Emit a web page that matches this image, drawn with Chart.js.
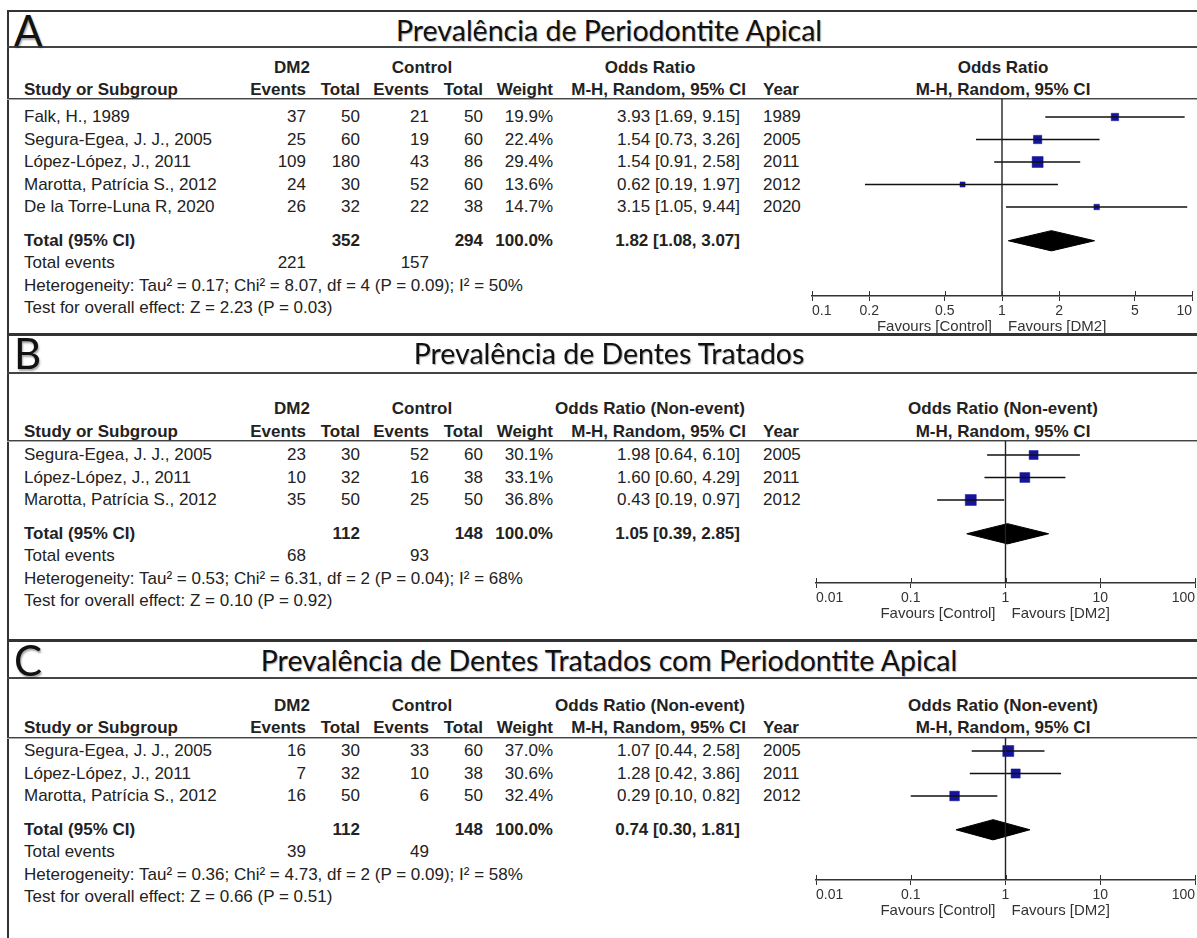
<!DOCTYPE html>
<html>
<head>
<meta charset="utf-8">
<script src="https://cdn.jsdelivr.net/npm/chart.js@4.4.1/dist/chart.umd.min.js"></script>
<style>
  body { margin: 0; background: #fff; }
  #page { position: relative; width: 1197px; height: 938px; overflow: hidden; background: #fff;
          font-family: "Liberation Sans", Arial, sans-serif; color: #222; }
  .t { position: absolute; white-space: nowrap; font-size: 17px; line-height: 20px; }
  .b { font-weight: bold; }
  .ttl { font-family: Lato, "Open Sans", sans-serif; font-size: 28.5px; line-height: 32px; color: #111;
         text-shadow: 1px 1px 1px rgba(0,0,0,0.3); }
  .let { font-family: Lato, "Open Sans", sans-serif; font-size: 42px; line-height: 44px; color: #111;
         text-shadow: 1px 2px 2px rgba(0,0,0,0.35); }
  .ln { position: absolute; }
  canvas { position: absolute; }
</style>
</head>
<body>
<div id="page"></div>
<script>
// --- DATA ---

const LETTERS = ['A', 'B', 'C'];
const TITLES = [
  'Prevalência de Periodontite Apical',
  'Prevalência de Dentes Tratados',
  'Prevalência de Dentes Tratados com Periodontite Apical'
];
const MEASURES = ['Odds Ratio', 'Odds Ratio (Non-event)', 'Odds Ratio (Non-event)'];

// A
const studiesA = ['Falk, H., 1989', 'Segura-Egea, J. J., 2005', 'López-López, J., 2011', 'Marotta, Patrícia S., 2012', 'De la Torre-Luna R, 2020'];
const dm2EventsA = [37, 25, 109, 24, 26];
const dm2TotalA = [50, 60, 180, 30, 32];
const ctrlEventsA = [21, 19, 43, 52, 22];
const ctrlTotalA = [50, 60, 86, 60, 38];
const weightA = [19.9, 22.4, 29.4, 13.6, 14.7];
const orA = [3.93, 1.54, 1.54, 0.62, 3.15];
const lowA = [1.69, 0.73, 0.91, 0.19, 1.05];
const highA = [9.15, 3.26, 2.58, 1.97, 9.44];
const yearA = [1989, 2005, 2011, 2012, 2020];
const totalA = [1.82, 1.08, 3.07];
const sumsA = [352, 294, 221, 157];
const hetA = 'Heterogeneity: Tau² = 0.17; Chi² = 8.07, df = 4 (P = 0.09); I² = 50%';
const testA = 'Test for overall effect: Z = 2.23 (P = 0.03)';
const ticksA = [0.1, 0.2, 0.5, 1, 2, 5, 10];

// B
const studiesB = ['Segura-Egea, J. J., 2005', 'López-López, J., 2011', 'Marotta, Patrícia S., 2012'];
const dm2EventsB = [23, 10, 35];
const dm2TotalB = [30, 32, 50];
const ctrlEventsB = [52, 16, 25];
const ctrlTotalB = [60, 38, 50];
const weightB = [30.1, 33.1, 36.8];
const orB = [1.98, 1.60, 0.43];
const lowB = [0.64, 0.60, 0.19];
const highB = [6.10, 4.29, 0.97];
const yearB = [2005, 2011, 2012];
const totalB = [1.05, 0.39, 2.85];
const sumsB = [112, 148, 68, 93];
const hetB = 'Heterogeneity: Tau² = 0.53; Chi² = 6.31, df = 2 (P = 0.04); I² = 68%';
const testB = 'Test for overall effect: Z = 0.10 (P = 0.92)';
const ticksB = [0.01, 0.1, 1, 10, 100];

// C
const studiesC = ['Segura-Egea, J. J., 2005', 'López-López, J., 2011', 'Marotta, Patrícia S., 2012'];
const dm2EventsC = [16, 7, 16];
const dm2TotalC = [30, 32, 50];
const ctrlEventsC = [33, 10, 6];
const ctrlTotalC = [60, 38, 50];
const weightC = [37.0, 30.6, 32.4];
const orC = [1.07, 1.28, 0.29];
const lowC = [0.44, 0.42, 0.10];
const highC = [2.58, 3.86, 0.82];
const yearC = [2005, 2011, 2012];
const totalC = [0.74, 0.30, 1.81];
const sumsC = [112, 148, 39, 49];
const hetC = 'Heterogeneity: Tau² = 0.36; Chi² = 4.73, df = 2 (P = 0.09); I² = 58%';
const testC = 'Test for overall effect: Z = 0.66 (P = 0.51)';
const ticksC = [0.01, 0.1, 1, 10, 100];

// --- LAYOUT (pixels) ---

const PANEL_TOP  = [10, 333, 639];
const TITLE_Y    = [30, 353, 660];
const TITLE_LINE = [46, 372, 677];
const HEAD1_Y    = [68, 409, 706];
const HEAD2_Y    = [90, 432, 728];
const HEAD_LINE  = [98, 440, 737];
const ROW0_Y     = [117, 455, 751];
const AXIS_Y     = [296, 583, 880];
const ROW_H = 22.5;
const X_AXIS_H = 46;
const PLOT_LEFT = [812, 816, 816];
const PLOT_RIGHT = [1192, 1195, 1195];
const CV_LEFT = 780, CV_W = 417;

const COL = { name: 24, e1: 306, t1: 360, e2: 429, t2: 483, w: 553, or: 740, year: 763,
              dm2: 292, ctrl: 422, orHead: 650, plot: 1003 };

const page = document.getElementById('page');

const put = (text, x, y, opt = {}) => {
  const d = document.createElement('div');
  d.className = 't' + (opt.bold ? ' b' : '') + (opt.cls ? ' ' + opt.cls : '');
  d.textContent = text;
  page.appendChild(d);
  const lh = parseFloat(getComputedStyle(d).lineHeight);
  d.style.top = (y - lh / 2) + 'px';
  if (opt.align === 'right') {
    d.style.left = (x - 600) + 'px'; d.style.width = '600px'; d.style.textAlign = 'right';
  } else if (opt.align === 'center') {
    d.style.left = (x - 500) + 'px'; d.style.width = '1000px'; d.style.textAlign = 'center';
  } else {
    d.style.left = x + 'px';
  }
};

const line = (x, y, w, h, color) => {
  const d = document.createElement('div');
  d.className = 'ln';
  Object.assign(d.style, { left: x + 'px', top: y + 'px', width: w + 'px', height: h + 'px', background: color });
  page.appendChild(d);
};

// up-ticks on the axis plus the two "Favours" labels
const axisExtras = {
  id: 'axisExtras',
  afterDraw(chart, args, opts) {
    const { ctx, scales: { x } } = chart;
    const y0 = chart.chartArea.bottom;
    ctx.save();
    ctx.strokeStyle = '#333';
    ctx.lineWidth = 1;
    x.ticks.forEach(t => {
      const px = Math.round(x.getPixelForValue(t.value)) + 0.5;
      ctx.beginPath(); ctx.moveTo(px, y0 - 5); ctx.lineTo(px, y0); ctx.stroke();
    });
    ctx.font = '15px "Liberation Sans", Arial, sans-serif';
    ctx.fillStyle = '#333';
    ctx.textBaseline = 'middle';
    const c = x.getPixelForValue(1);
    ctx.textAlign = 'right';
    ctx.fillText(opts.left, c - 10, y0 + 31);
    ctx.textAlign = 'left';
    ctx.fillText(opts.right, c + 6, y0 + 31);
    ctx.restore();
  }
};

const fmtCI = (m, lo, hi) => `${m.toFixed(2)} [${lo.toFixed(2)}, ${hi.toFixed(2)}]`;

const renderPlot = (p, k) => {
  const top = HEAD_LINE[k] + 1;
  const h = AXIS_Y[k] - top + X_AXIS_H;
  const cv = document.createElement('canvas');
  cv.width = CV_W; cv.height = h;
  cv.style.left = CV_LEFT + 'px'; cv.style.top = top + 'px';
  page.appendChild(cv);

  const yMin = (top - ROW0_Y[k]) / ROW_H;
  const yMax = (AXIS_Y[k] - ROW0_Y[k]) / ROW_H;
  const yT = p.studies.length + 0.5;
  const maxW = Math.max(...p.weight);

  const datasets = [
    { data: [{ x: 1, y: yMin }, { x: 1, y: yMax }], borderColor: '#222', borderWidth: 1.4, pointRadius: 0 }
  ];
  p.studies.forEach((s, i) => datasets.push({
    data: [{ x: p.low[i], y: i }, { x: p.high[i], y: i }],
    borderColor: '#111', borderWidth: 1.4, pointRadius: 0
  }));
  datasets.push({
    data: p.or.map((v, i) => ({ x: v, y: i })),
    showLine: false, pointStyle: 'rect',
    pointRadius: p.weight.map(w => (11 * w / maxW) / Math.SQRT2),
    backgroundColor: '#14149c', borderColor: '#14149c', borderWidth: 0.5
  });
  const [m, lo, hi] = p.total;
  datasets.push({
    data: [{ x: lo, y: yT }, { x: m, y: yT - 0.45 }, { x: hi, y: yT }, { x: m, y: yT + 0.45 }, { x: lo, y: yT }],
    borderColor: '#000', backgroundColor: '#000', borderWidth: 1, pointRadius: 0, fill: 'shape', tension: 0
  });

  new Chart(cv, {
    type: 'line',
    data: { datasets },
    options: {
      responsive: false,
      animation: false,
      events: [],
      layout: {
        autoPadding: false,
        padding: { left: PLOT_LEFT[k] - CV_LEFT, right: CV_LEFT + CV_W - PLOT_RIGHT[k], top: 0, bottom: 0 }
      },
      plugins: {
        legend: { display: false },
        tooltip: { enabled: false },
        axisExtras: { left: 'Favours [Control]', right: 'Favours [DM2]' }
      },
      scales: {
        x: {
          type: 'logarithmic',
          min: p.ticks[0],
          max: p.ticks[p.ticks.length - 1],
          afterBuildTicks: s => { s.ticks = p.ticks.map(v => ({ value: v })); },
          afterFit: s => { s.height = X_AXIS_H; },
          grid: { display: true, drawOnChartArea: false, drawTicks: true, tickLength: 5, color: '#333', lineWidth: 1 },
          border: { display: true, color: '#333', width: 1.5 },
          ticks: {
            autoSkip: false, maxRotation: 0, align: 'inner', padding: 2, color: '#333',
            font: { family: '"Liberation Sans", Arial, sans-serif', size: 14 },
            callback: v => String(v)
          }
        },
        y: { type: 'linear', display: false, reverse: true, min: yMin, max: yMax }
      }
    },
    plugins: [axisExtras]
  });
};

const renderPanel = (p, k) => {
  // frame lines
  line(7, PANEL_TOP[k], 1190, k === 0 ? 2 : 3, '#333');
  line(7, TITLE_LINE[k], 1190, 2, '#444');
  line(7, HEAD_LINE[k], 1190, 1, '#444');
  line(7, HEAD_LINE[k] + 1, 1190, 1, '#aaa');

  put(LETTERS[k], 14, TITLE_Y[k], { cls: 'let' });
  put(TITLES[k], 609, TITLE_Y[k], { cls: 'ttl', align: 'center' });

  // headers
  const h1 = HEAD1_Y[k], h2 = HEAD2_Y[k];
  put('DM2', COL.dm2, h1, { bold: true, align: 'center' });
  put('Control', COL.ctrl, h1, { bold: true, align: 'center' });
  put(MEASURES[k], COL.orHead, h1, { bold: true, align: 'center' });
  put(MEASURES[k], COL.plot, h1, { bold: true, align: 'center' });
  put('Study or Subgroup', COL.name, h2, { bold: true });
  put('Events', COL.e1, h2, { bold: true, align: 'right' });
  put('Total', COL.t1, h2, { bold: true, align: 'right' });
  put('Events', COL.e2, h2, { bold: true, align: 'right' });
  put('Total', COL.t2, h2, { bold: true, align: 'right' });
  put('Weight', COL.w, h2, { bold: true, align: 'right' });
  put('M-H, Random, 95% CI', COL.or + 6, h2, { bold: true, align: 'right' });
  put('Year', COL.year, h2, { bold: true });
  put('M-H, Random, 95% CI', COL.plot, h2, { bold: true, align: 'center' });

  // study rows
  p.studies.forEach((s, i) => {
    const y = ROW0_Y[k] + i * ROW_H;
    put(s, COL.name, y);
    put(String(p.dm2Events[i]), COL.e1, y, { align: 'right' });
    put(String(p.dm2Total[i]), COL.t1, y, { align: 'right' });
    put(String(p.ctrlEvents[i]), COL.e2, y, { align: 'right' });
    put(String(p.ctrlTotal[i]), COL.t2, y, { align: 'right' });
    put(p.weight[i].toFixed(1) + '%', COL.w, y, { align: 'right' });
    put(fmtCI(p.or[i], p.low[i], p.high[i]), COL.or, y, { align: 'right' });
    put(String(p.year[i]), COL.year, y);
  });

  // summary rows
  const yT = ROW0_Y[k] + (p.studies.length + 0.5) * ROW_H;
  put('Total (95% CI)', COL.name, yT, { bold: true });
  put(String(p.sums[0]), COL.t1, yT, { bold: true, align: 'right' });
  put(String(p.sums[1]), COL.t2, yT, { bold: true, align: 'right' });
  put('100.0%', COL.w, yT, { bold: true, align: 'right' });
  put(fmtCI(...p.total), COL.or, yT, { bold: true, align: 'right' });
  put('Total events', COL.name, yT + ROW_H);
  put(String(p.sums[2]), COL.e1, yT + ROW_H, { align: 'right' });
  put(String(p.sums[3]), COL.e2, yT + ROW_H, { align: 'right' });
  put(p.het, COL.name, yT + 2 * ROW_H);
  put(p.test, COL.name, yT + 3 * ROW_H);

  renderPlot(p, k);
};

const PANELS = [
  { studies: studiesA, dm2Events: dm2EventsA, dm2Total: dm2TotalA, ctrlEvents: ctrlEventsA, ctrlTotal: ctrlTotalA,
    weight: weightA, or: orA, low: lowA, high: highA, year: yearA, total: totalA, sums: sumsA, het: hetA, test: testA, ticks: ticksA },
  { studies: studiesB, dm2Events: dm2EventsB, dm2Total: dm2TotalB, ctrlEvents: ctrlEventsB, ctrlTotal: ctrlTotalB,
    weight: weightB, or: orB, low: lowB, high: highB, year: yearB, total: totalB, sums: sumsB, het: hetB, test: testB, ticks: ticksB },
  { studies: studiesC, dm2Events: dm2EventsC, dm2Total: dm2TotalC, ctrlEvents: ctrlEventsC, ctrlTotal: ctrlTotalC,
    weight: weightC, or: orC, low: lowC, high: highC, year: yearC, total: totalC, sums: sumsC, het: hetC, test: testC, ticks: ticksC }
];

line(7, 10, 2, 928, '#333');
PANELS.forEach(renderPanel);
</script>
</body>
</html>
